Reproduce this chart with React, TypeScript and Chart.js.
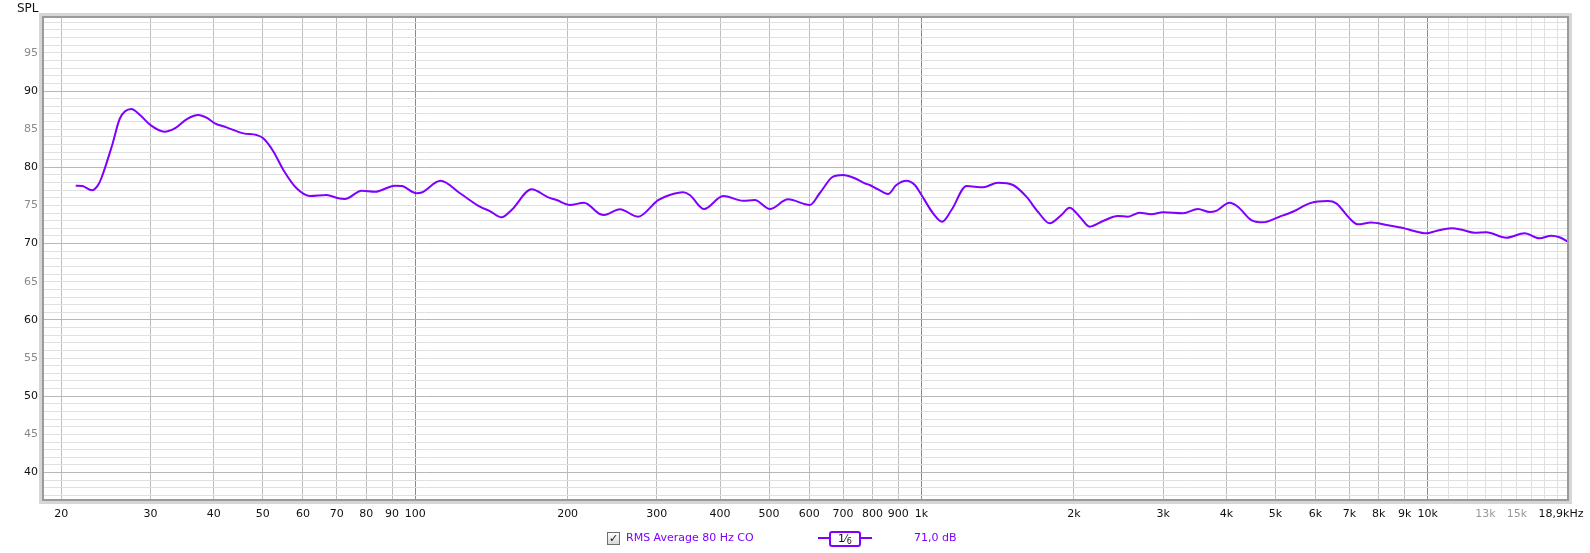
import React, { useEffect, useRef } from "react";
import { Chart, registerables } from "chart.js";

Chart.register(...registerables);

// Frequency response (RMS Average 80 Hz CO)
const FREQ_HZ = [
  21.35, 22.0, 23.0, 23.6, 24.0, 25.2, 26.1, 27.5, 28.6, 30.0, 31.96, 33.5, 35.4, 37.3, 38.7, 40.2,
  42.4, 45.8, 48.6, 50.1, 52.5, 54.9, 58.3, 62.0, 66.8, 70.5, 72.6, 78.4, 83.3, 91.2, 94, 100.6,
  103, 112.2, 122.6, 134.2, 140.4, 148.1, 155, 169.7, 183.1, 190.2, 202.1, 215.4, 231.6, 236,
  253.6, 275.6, 301.9, 318.3, 338.1, 348.5, 372.1, 405.6, 444.1, 468.4, 501.7, 545, 601.6,
  629.5, 668.8, 699.8, 738.2, 772.6, 790, 821, 858.8, 892, 934, 970, 1000, 1054, 1098, 1146,
  1227, 1322, 1416, 1516, 1611, 1698, 1791, 1889, 1961, 2053, 2149, 2283, 2443, 2557, 2697,
  2844, 2999, 3284, 3516, 3707, 3822, 4059, 4215, 4481, 4724, 5095, 5413, 5840, 6346, 6595,
  7004, 7274, 7730, 8279, 8998, 9343, 9931, 10390, 11130, 11730, 12370, 13050, 14290, 15530,
  16630, 17530, 18200, 18920,
];
const SPL_DB = [
  77.6, 77.55, 77.0, 77.6, 78.6, 82.9, 86.4, 87.64, 86.85, 85.54, 84.67, 85.1, 86.33, 86.85, 86.5, 85.77,
  85.24, 84.45, 84.23, 83.8, 82.05, 79.65, 77.25, 76.24, 76.37, 75.94, 75.85, 76.93, 76.8, 77.59, 77.55, 76.6,
  76.7, 78.24, 76.6, 74.84, 74.27, 73.45, 74.4, 77.12, 76.07, 75.71, 75.06, 75.36, 73.88, 73.75,
  74.5, 73.53, 75.71, 76.37, 76.72, 76.37, 74.53, 76.24, 75.62, 75.71, 74.53, 75.81, 75.06,
  76.6, 78.77, 78.99, 78.56, 77.9, 77.68, 77.1, 76.5, 77.68, 78.24, 77.68, 76.37, 73.97, 72.87, 74.4,
  77.55, 77.38, 77.98, 77.68, 76.15, 74.18, 72.66, 73.75, 74.7, 73.53, 72.22, 72.96, 73.62, 73.53, 74.05,
  73.84, 74.1, 73.97, 74.53, 74.14, 74.3, 75.36, 74.84, 73.09, 72.79, 73.53, 74.18, 75.28, 75.58, 75.28,
  73.32, 72.53, 72.76, 72.44, 72.0, 71.69, 71.35, 71.65, 72.0, 71.78, 71.43, 71.48, 70.77, 71.35,
  70.69, 71.03, 70.83, 70.25,
];

// Axis ranges and ticks
const X_MIN = 18.4;
const X_MAX = 18920;
const Y_MIN = 36.4;
const Y_MAX = 99.7;

const X_TICK_VALUES = [
  20, 30, 40, 50, 60, 70, 80, 90, 100,
  200, 300, 400, 500, 600, 700, 800, 900, 1000,
  2000, 3000, 4000, 5000, 6000, 7000, 8000, 9000, 10000,
  11000, 12000, 13000, 14000, 15000, 16000, 17000, 18000, 18920,
];
const X_TICK_LABELS = [
  "20", "30", "40", "50", "60", "70", "80", "90", "100",
  "200", "300", "400", "500", "600", "700", "800", "900", "1k",
  "2k", "3k", "4k", "5k", "6k", "7k", "8k", "9k", "10k",
  "", "", "13k", "", "15k", "", "", "", "18,9kHz    ",
];
const X_GRAY_LABELS = [13000, 15000];

const Y_TICK_VALUES = Array.from({ length: 63 }, (_, i) => 37 + i); // 1 dB grid
const Y_LABEL_STEP = 5;

const PURPLE = "#7f00ff";
const FONT = "'DejaVu Sans', sans-serif";

const framePlugin = {
  id: "frame",
  afterDraw(chart: any) {
    const { ctx, chartArea: a } = chart;
    ctx.save();
    ctx.strokeStyle = "#d6d6d6";
    ctx.lineWidth = 3;
    ctx.strokeRect(a.left - 2.5, a.top - 2.5, a.right - a.left + 5, a.bottom - a.top + 5);
    ctx.strokeStyle = "#9a9a9a";
    ctx.lineWidth = 2;
    ctx.strokeRect(a.left, a.top, a.right - a.left, a.bottom - a.top);
    ctx.restore();
  },
};

export default function App() {
  const ref = useRef<HTMLCanvasElement | null>(null);

  useEffect(() => {
    if (!ref.current) return;
    const points = FREQ_HZ.map((f, i) => ({ x: f, y: SPL_DB[i] }));
    const chart = new Chart(ref.current, {
      type: "line",
      data: {
        datasets: [
          {
            label: "RMS Average 80 Hz CO",
            data: points,
            borderColor: PURPLE,
            borderWidth: 2,
            pointRadius: 0,
            fill: false,
            cubicInterpolationMode: "monotone",
          },
        ],
      },
      options: {
        animation: false,
        responsive: false,
        devicePixelRatio: 1,
        layout: { padding: { top: 17, right: 22, left: 0, bottom: 0 } },
        plugins: { legend: { display: false }, tooltip: { enabled: false } },
        font: { family: FONT, size: 11 },
        scales: {
          x: {
            type: "logarithmic",
            min: X_MIN,
            max: X_MAX,
            bounds: "data",
            border: { display: false },
            afterBuildTicks: (scale: any) => {
              scale.ticks = X_TICK_VALUES.map((v) => ({ value: v }));
            },
            afterFit: (scale: any) => {
              scale.height = 53;
              scale.paddingLeft = 0;
              scale.paddingRight = 0;
            },
            grid: {
              drawTicks: false,
              lineWidth: 1,
              color: (ctx: any) => {
                const v = ctx.tick ? ctx.tick.value : 0;
                if (v === 18920) return "rgba(0,0,0,0)";
                if (v === 100 || v === 1000 || v === 10000) return "#8a8a8a";
                if (v > 10000) return "#e0e0e0";
                return "#bdbdbd";
              },
            },
            ticks: {
              autoSkip: false,
              maxRotation: 0,
              minRotation: 0,
              padding: 8,
              font: { family: FONT, size: 11 },
              color: (ctx: any) => (ctx.tick && X_GRAY_LABELS.includes(ctx.tick.value) ? "#9a9a9a" : "#111"),
              callback: (_v: any, i: number) => X_TICK_LABELS[i],
            },
          },
          y: {
            type: "linear",
            min: Y_MIN,
            max: Y_MAX,
            bounds: "data",
            border: { display: false },
            afterBuildTicks: (scale: any) => {
              scale.ticks = Y_TICK_VALUES.map((v) => ({ value: v }));
            },
            afterFit: (scale: any) => {
              scale.width = 43;
            },
            grid: {
              drawTicks: false,
              lineWidth: 1,
              color: (ctx: any) => (ctx.tick && ctx.tick.value % 10 === 0 ? "#b8b8b8" : "#e0e0e0"),
            },
            ticks: {
              autoSkip: false,
              padding: 5,
              font: { family: FONT, size: 11 },
              color: (ctx: any) => (ctx.tick && ctx.tick.value % 10 === 0 ? "#111" : "#8a8a8a"),
              callback: (v: any) => (Number(v) % Y_LABEL_STEP === 0 ? String(v) : ""),
            },
          },
        },
      } as any,
      plugins: [framePlugin],
    });
    return () => chart.destroy();
  }, []);

  const text11: React.CSSProperties = {
    position: "absolute",
    fontFamily: FONT,
    fontSize: 11,
    lineHeight: "14px",
    whiteSpace: "nowrap",
  };

  return (
    <div style={{ position: "fixed", left: 0, top: 0, width: 1590, height: 553, background: "#fff", overflow: "hidden" }}>
      <canvas ref={ref} width={1590} height={553} style={{ display: "block", width: 1590, height: 553 }} />
      <div style={{ ...text11, fontSize: 12, left: 17, top: 1, color: "#111" }}>SPL</div>
      {/* legend */}
      <div
        style={{
          position: "absolute",
          left: 607,
          top: 532,
          width: 11,
          height: 11,
          border: "1px solid #6e6e6e",
          background: "linear-gradient(#ffffff, #d8d8d8)",
          fontFamily: FONT,
          fontSize: 11,
          lineHeight: "11px",
          textAlign: "center",
          fontWeight: "bold",
          color: "#111",
        }}
      >
        ✓
      </div>
      <div style={{ ...text11, left: 626, top: 531, color: PURPLE }}>RMS Average 80 Hz CO</div>
      <div style={{ position: "absolute", left: 818, top: 537, width: 54, height: 2, background: PURPLE }} />
      <div
        style={{
          position: "absolute",
          left: 829,
          top: 531,
          width: 28,
          height: 12,
          border: `2px solid ${PURPLE}`,
          borderRadius: 3,
          background: "#fff",
          fontFamily: FONT,
          fontSize: 11,
          lineHeight: "12px",
          textAlign: "center",
          color: "#111",
        }}
      >
        <span>1</span>
        <span style={{ fontSize: 10 }}>⁄</span>
        <span style={{ fontSize: 8, position: "relative", top: 2 }}>6</span>
      </div>
      <div style={{ ...text11, left: 914, top: 531, color: PURPLE }}>71,0 dB</div>
    </div>
  );
}
